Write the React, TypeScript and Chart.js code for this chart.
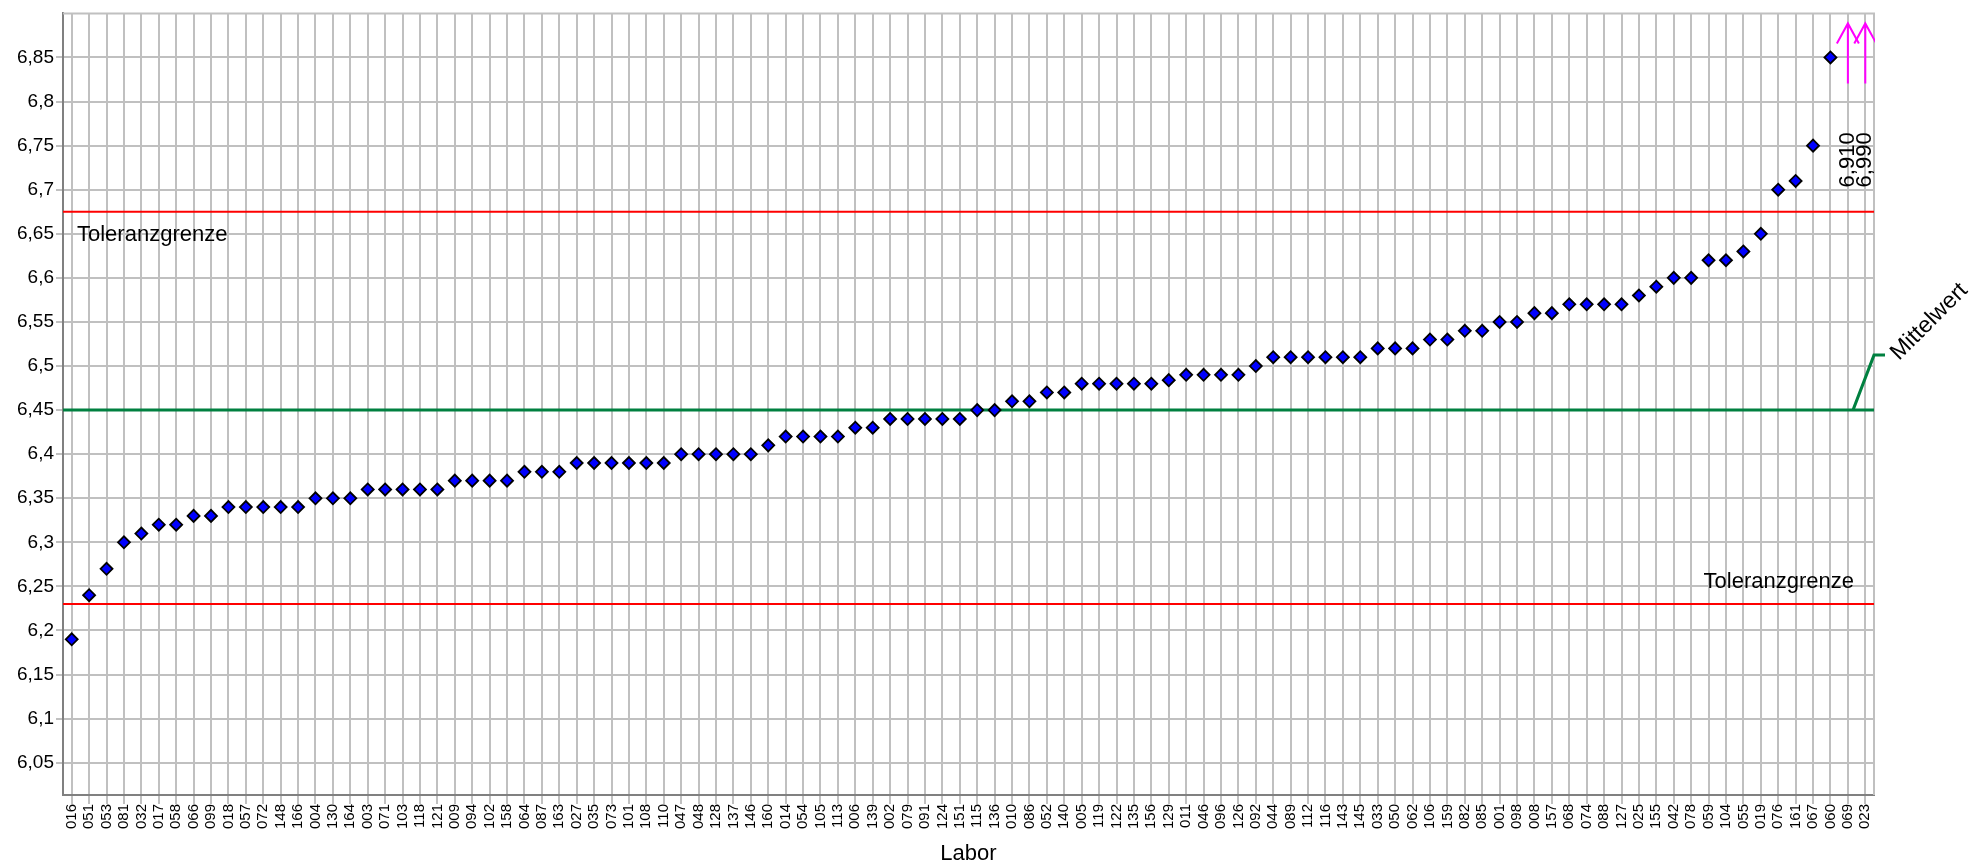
import React, { useEffect, useRef } from 'react';
import { Chart, registerables } from 'chart.js';

Chart.register(...registerables);

const FONT = 'Liberation Sans, Arial, sans-serif';

const labs = [
  '016', '051', '053', '081', '032', '017', '058', '066', '099', '018', '057', '072', '148', '166',
  '004', '130', '164', '003', '071', '103', '118', '121', '009', '094', '102', '158', '064', '087',
  '163', '027', '035', '073', '101', '108', '110', '047', '048', '128', '137', '146', '160', '014',
  '054', '105', '113', '006', '139', '002', '079', '091', '124', '151', '115', '136', '010', '086',
  '052', '140', '005', '119', '122', '135', '156', '129', '011', '046', '096', '126', '092', '044',
  '089', '112', '116', '143', '145', '033', '050', '062', '106', '159', '082', '085', '001', '098',
  '008', '157', '068', '074', '088', '127', '025', '155', '042', '078', '059', '104', '055', '019',
  '076', '161', '067', '060', '069', '023',
];

const values = [
  6.19, 6.24, 6.27, 6.30, 6.31, 6.32, 6.32, 6.33, 6.33, 6.34, 6.34, 6.34, 6.34, 6.34,
  6.35, 6.35, 6.35, 6.36, 6.36, 6.36, 6.36, 6.36, 6.37, 6.37, 6.37, 6.37, 6.38, 6.38,
  6.38, 6.39, 6.39, 6.39, 6.39, 6.39, 6.39, 6.40, 6.40, 6.40, 6.40, 6.40, 6.41, 6.42,
  6.42, 6.42, 6.42, 6.43, 6.43, 6.44, 6.44, 6.44, 6.44, 6.44, 6.45, 6.45, 6.46, 6.46,
  6.47, 6.47, 6.48, 6.48, 6.48, 6.48, 6.48, 6.484, 6.49, 6.49, 6.49, 6.49, 6.50, 6.51,
  6.51, 6.51, 6.51, 6.51, 6.51, 6.52, 6.52, 6.52, 6.53, 6.53, 6.54, 6.54, 6.55, 6.55,
  6.56, 6.56, 6.57, 6.57, 6.57, 6.57, 6.58, 6.59, 6.60, 6.60, 6.62, 6.62, 6.63, 6.65,
  6.70, 6.71, 6.75, 6.85, 6.91, 6.99,
];

const yTicks = [6.05, 6.1, 6.15, 6.2, 6.25, 6.3, 6.35, 6.4, 6.45, 6.5, 6.55, 6.6, 6.65, 6.7, 6.75, 6.8, 6.85];
const yMin = 6.0134;
const yMax = 6.9;

const meanValue = 6.45;
const upperLimit = 6.675;
const lowerLimit = 6.23;

const meanLabel = 'Mittelwert';
const limitLabel = 'Toleranzgrenze';
const xTitle = 'Labor';

const fmt = (v: number) => String(Number(v.toFixed(2))).replace('.', ',');

const overlay = {
  id: 'overlay',
  beforeDatasetsDraw(chart: any) {
    const { ctx, chartArea: a, scales } = chart;
    const y = scales.y;
    ctx.save();
    ctx.strokeStyle = '#C0C0C0';
    ctx.lineWidth = 2;
    ctx.beginPath();
    ctx.moveTo(a.left, a.top);
    ctx.lineTo(a.right, a.top);
    ctx.lineTo(a.right, a.bottom);
    ctx.stroke();
    ctx.strokeStyle = '#FF0000';
    ctx.lineWidth = 2;
    for (const v of [upperLimit, lowerLimit]) {
      const py = y.getPixelForValue(v);
      ctx.beginPath();
      ctx.moveTo(a.left, py);
      ctx.lineTo(a.right, py);
      ctx.stroke();
    }
    const my = y.getPixelForValue(meanValue);
    ctx.strokeStyle = '#008040';
    ctx.lineWidth = 3;
    ctx.beginPath();
    ctx.moveTo(a.left, my);
    ctx.lineTo(a.right, my);
    ctx.stroke();
    ctx.beginPath();
    ctx.moveTo(a.right - 21, my);
    ctx.lineTo(a.right, my - 55);
    ctx.lineTo(a.right + 11, my - 55);
    ctx.stroke();
    ctx.restore();
  },
  afterDatasetsDraw(chart: any) {
    const { ctx, chartArea: a, scales } = chart;
    const x = scales.x;
    const y = scales.y;
    ctx.save();
    ctx.save();
    ctx.beginPath();
    ctx.rect(a.left, 0, a.right - a.left + 1, a.bottom);
    ctx.clip();
    ctx.strokeStyle = '#FF00FF';
    ctx.lineWidth = 2;
    values.forEach((v, i) => {
      if (v <= yMax) return;
      const px = x.getPixelForValue(i);
      ctx.beginPath();
      ctx.moveTo(px, a.top + 70);
      ctx.lineTo(px, a.top + 10);
      ctx.moveTo(px - 11, a.top + 30);
      ctx.lineTo(px, a.top + 10);
      ctx.lineTo(px + 11, a.top + 30);
      ctx.stroke();
    });
    ctx.restore();
    ctx.fillStyle = '#000';
    ctx.font = `22px ${FONT}`;
    values.forEach((v, i) => {
      if (v <= yMax) return;
      const px = x.getPixelForValue(i);
      ctx.save();
      ctx.translate(px, a.top + 174);
      ctx.rotate(-Math.PI / 2);
      ctx.textAlign = 'left';
      ctx.textBaseline = 'middle';
      ctx.fillText(v.toFixed(3).replace('.', ','), 0, 0);
      ctx.restore();
    });
    ctx.font = `22px ${FONT}`;
    ctx.textBaseline = 'alphabetic';
    ctx.textAlign = 'left';
    ctx.fillText(limitLabel, a.left + 14, y.getPixelForValue(upperLimit) + 29);
    ctx.textAlign = 'right';
    ctx.fillText(limitLabel, a.right - 20, y.getPixelForValue(lowerLimit) - 16);
    const my = y.getPixelForValue(meanValue);
    ctx.save();
    ctx.translate(a.right + 25, my - 49);
    ctx.rotate(-Math.PI / 4);
    ctx.textAlign = 'left';
    ctx.font = `23px ${FONT}`;
    ctx.fillText(meanLabel, 0, 0);
    ctx.restore();
    ctx.restore();
  },
};

export default function App() {
  const ref = useRef<HTMLCanvasElement | null>(null);
  useEffect(() => {
    if (!ref.current) return;
    const plotted = values.map((v) => (v > yMax ? null : v));
    const chart = new Chart(ref.current, {
      type: 'line',
      data: {
        labels: labs,
        datasets: [
          {
            data: plotted,
            showLine: false,
            pointStyle: 'rectRot',
            pointRadius: 6,
            pointHoverRadius: 6,
            pointBackgroundColor: '#0000FF',
            pointBorderColor: '#000000',
            pointBorderWidth: 1.8,
          },
        ],
      },
      options: {
        animation: false,
        responsive: false,
        events: [],
        layout: { padding: { top: 13, right: 103, left: 0, bottom: 0 } },
        plugins: { legend: { display: false }, tooltip: { enabled: false } },
        scales: {
          x: {
            type: 'category',
            offset: true,
            grid: { color: '#C0C0C0', lineWidth: 2, offset: false, drawTicks: true, tickLength: 9 },
            border: { color: '#808080', width: 2 },
            ticks: {
              autoSkip: false,
              minRotation: 90,
              maxRotation: 90,
              padding: 0,
              color: '#000',
              font: { family: FONT, size: 15 },
            },
            title: {
              display: true,
              text: xTitle,
              color: '#000',
              font: { family: FONT, size: 22 },
              padding: { top: 0, bottom: 0 },
            },
            afterFit: (s: any) => {
              s.height = 72;
            },
          },
          y: {
            min: yMin,
            max: yMax,
            afterBuildTicks: (s: any) => {
              s.ticks = yTicks.map((v) => ({ value: v }));
            },
            grid: { color: '#C0C0C0', lineWidth: 2, tickLength: 7 },
            border: { color: '#808080', width: 2 },
            ticks: {
              padding: 2,
              color: '#000',
              font: { family: FONT, size: 19 },
              callback: (v: any) => fmt(Number(v)),
            },
            afterFit: (s: any) => {
              s.width = 63;
            },
          },
        },
      },
      plugins: [overlay],
    } as any);
    return () => chart.destroy();
  }, []);
  return (
    <div style={{ position: 'absolute', left: 0, top: 0, width: 1977, height: 867, background: '#fff' }}>
      <canvas ref={ref} width={1977} height={867} style={{ display: 'block' }} />
    </div>
  );
}
